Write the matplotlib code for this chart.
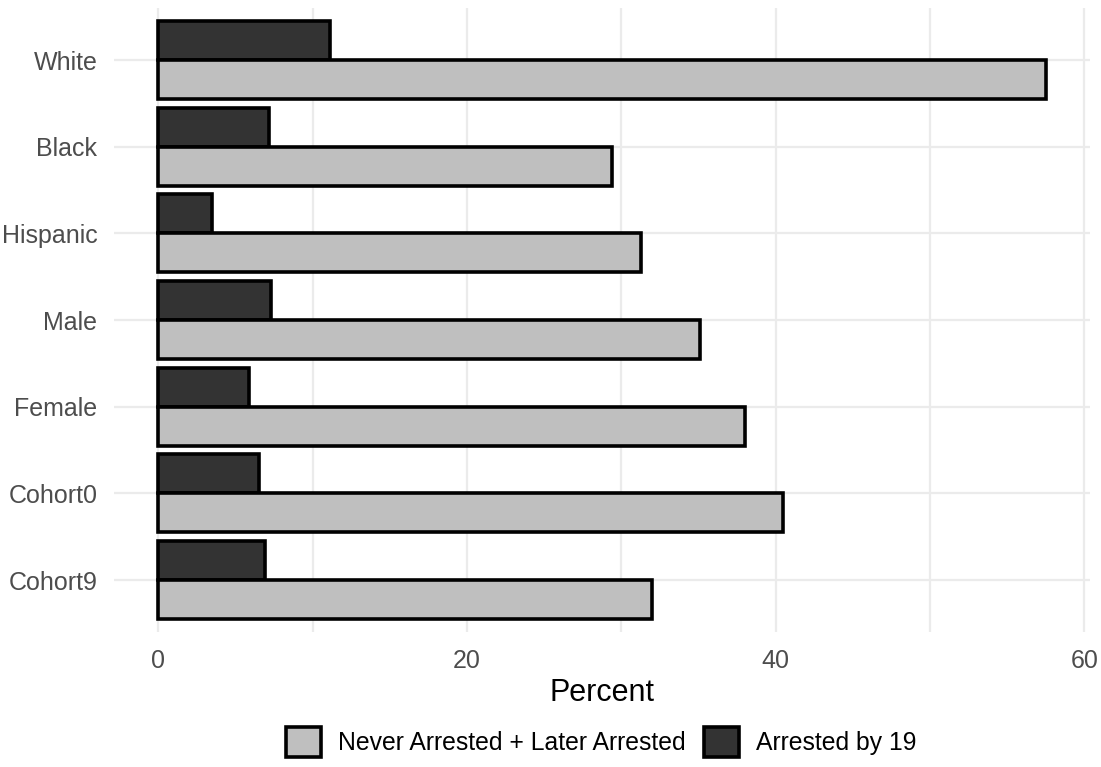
import matplotlib
matplotlib.use("Agg")
import matplotlib.pyplot as plt
import numpy as np
from matplotlib.patches import Patch

categories = ["White", "Black", "Hispanic", "Male", "Female", "Cohort0", "Cohort9"]
never_later = [57.5, 29.4, 31.3, 35.1, 38.0, 40.5, 32.0]
arrested19 = [11.1, 7.2, 3.5, 7.3, 5.9, 6.5, 6.9]
series_labels = ["Never Arrested + Later Arrested", "Arrested by 19"]
xticks = [0, 20, 40, 60]

plt.rcParams['font.family'] = ['Liberation Sans', 'DejaVu Sans']

fig = plt.figure(figsize=(11.01, 7.67), dpi=100)
ax = fig.add_axes([114/1101, 1-632/767, (1090-114)/1101, (632-8)/767])

y = np.arange(len(categories))
h = 0.45
light = "#BFBFBF"
dark = "#333333"
lw = 2.6
ax.barh(y - h/2, arrested19, height=h, color=dark, edgecolor="black", linewidth=lw, zorder=3)
ax.barh(y + h/2, never_later, height=h, color=light, edgecolor="black", linewidth=lw, zorder=3)

ax.set_xlim(-2.875, 60.375)
ax.set_ylim(len(categories) - 1 + 0.6, -0.6)
ax.set_yticks(y)
ax.set_yticklabels(categories)
ax.set_xticks(xticks)
ax.set_xticks([10, 30, 50], minor=True)
ax.tick_params(axis='both', length=0, labelsize=18, labelcolor="#4D4D4D", pad=12)
ax.tick_params(axis='x', pad=12)
ax.tick_params(which='minor', length=0)
ax.grid(True, which='both', color="#EBEBEB", linewidth=1.6, zorder=0)
for s in ax.spines.values():
    s.set_visible(False)
ax.set_xlabel("Percent", fontsize=22, color="black", labelpad=4)

handles = [Patch(facecolor=light, edgecolor="black", linewidth=lw),
           Patch(facecolor=dark, edgecolor="black", linewidth=lw)]
fig.legend(handles, series_labels, loc="center", bbox_to_anchor=(0.5463, 1-742/767),
           ncol=2, frameon=False, fontsize=17.8, handlelength=1.4, handleheight=1.5,
           columnspacing=0.75, handletextpad=0.7)

fig.savefig("out.png", dpi=100)
